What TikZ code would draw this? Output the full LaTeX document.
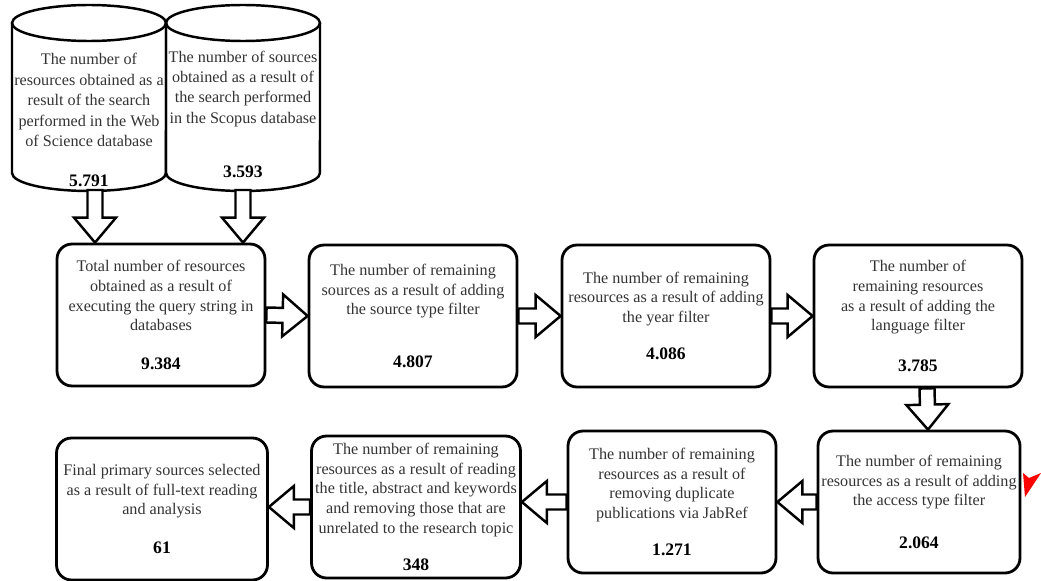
\documentclass[tikz,border=0pt]{standalone}
\usepackage{fontspec}
\setmainfont{Liberation Serif}
\usetikzlibrary{calc}

\tikzset{
  stagebox/.style={draw, line width=1.6pt, rounded corners=0.3cm, minimum width=4.16cm,
    minimum height=2.84cm, inner sep=1pt, align=center, text=black!80,
    font=\fontsize{9.2}{11.2}\selectfont},
  dbtext/.style={inner sep=1pt, align=center, text=black!80,
    font=\fontsize{9.2}{11.6}\selectfont},
  dbline/.style={line width=1.4pt},
  hollow arrow/.style={draw, fill=white, line width=1.4pt, line join=miter,
    to path={let \p1=(\tikztostart), \p2=(\tikztotarget),
      \n1={atan2(\y2-\y1,\x2-\x1)} in
      ($(\p1)+(\n1+90:0.15cm)$)
      -- ($(\p2)+(\n1+180:0.5cm)+(\n1+90:0.15cm)$)
      -- ($(\p2)+(\n1+180:0.5cm)+(\n1+90:0.42cm)$)
      -- (\p2)
      -- ($(\p2)+(\n1+180:0.5cm)+(\n1-90:0.42cm)$)
      -- ($(\p2)+(\n1+180:0.5cm)+(\n1-90:0.15cm)$)
      -- ($(\p1)+(\n1-90:0.15cm)$) -- cycle}}
}
\newcommand{\num}[1]{{\color{black}\fontsize{10}{12}\selectfont\bfseries #1}}

\begin{document}
\begin{tikzpicture}[x=0.02cm, y=-0.02cm]
  \useasboundingbox (0,0) rectangle (1041,581);

  % Databases
  \draw[dbline] (12,23) -- (12,173) arc[start angle=180, end angle=360, x radius=1.54cm, y radius=0.36cm] -- (166,23);
  \draw[dbline] (89,23) ellipse [x radius=1.54cm, y radius=0.36cm];
  \draw[dbline] (166,23) -- (166,173) arc[start angle=180, end angle=360, x radius=1.54cm, y radius=0.36cm] -- (320,23);
  \draw[dbline] (243,23) ellipse [x radius=1.54cm, y radius=0.36cm];

  \node[dbtext] (wos) at (89,120) {The number of\\resources obtained as a\\result of the search\\performed in the Web\\of Science database\\[11pt]\num{5.791}};
  \node[dbtext] (scopus) at (243,114) {The number of sources\\obtained as a result of\\the search performed\\in the Scopus database\\[19pt]\num{3.593}};
  \coordinate (wosout) at (95,190);
  \coordinate (scopusout) at (243,190);

  % First row
  \node[stagebox] (tot) at (161,315) {Total number of resources\\obtained as a result of\\executing the query string in\\databases\\[10.8pt]\num{9.384}};
  \node[stagebox] (stype) at (413,316) {The number of remaining\\sources as a result of adding\\the source type filter\\[19pt]\num{4.807}};
  \node[stagebox] (year) at (666,316) {The number of remaining\\resources as a result of adding\\the year filter\\[10pt]\num{4.086}};
  \node[stagebox] (lang) at (918,316) {The number of\\remaining resources\\as a result of adding the\\language filter\\[12pt]\num{3.785}};

  % Second row
  \node[stagebox, minimum width=4.04cm] (access) at (919,502) {The number of remaining\\resources as a result of adding\\the access type filter\\[13pt]\num{2.064}};
  \node[stagebox] (jabref) at (672,502) {The number of remaining\\resources as a result of\\removing duplicate\\publications via JabRef\\[10pt]\num{1.271}};
  \node[stagebox, minimum width=4.18cm] (title) at (416,507) {The number of remaining\\resources as a result of reading\\the title, abstract and keywords\\and removing those that are\\unrelated to the research topic\\[10pt]\num{348}};
  \node[stagebox, minimum width=4.22cm] (final) at (162,509) {Final primary sources selected\\as a result of full-text reading\\and analysis\\[11pt]\num{61}};

  % Arrows
  \path[hollow arrow] (wosout) to (wosout |- tot.north);
  \path[hollow arrow] (scopusout) to (scopusout |- tot.north);
  \path[hollow arrow] (tot.east) to (stype.west);
  \path[hollow arrow] (stype.east) to (year.west);
  \path[hollow arrow] (year.east) to (lang.west);
  \path[hollow arrow] ($(lang.south)+(9,0)$) to ($(access.north)+(9,0)$);
  \path[hollow arrow] (access.west) to (jabref.east);
  \path[hollow arrow] (jabref.west) to (jabref.west -| title.east);
  \path[hollow arrow] (title.west) to (title.west -| final.east);

  % Red mark
  \fill[red] (1023,473) -- (1029,478) -- (1041,473) -- (1025,497) -- cycle;
\end{tikzpicture}
\end{document}
